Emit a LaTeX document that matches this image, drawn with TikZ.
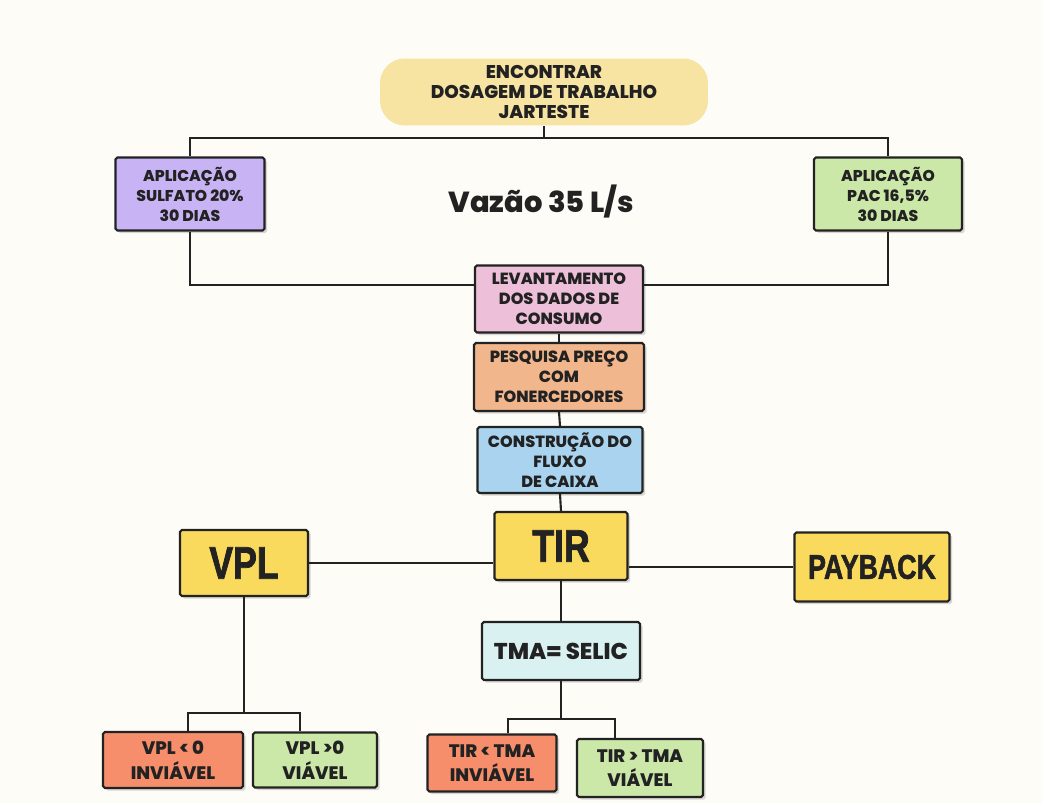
\documentclass[tikz,border=0pt]{standalone}
\usepackage{fontspec}
\setmainfont{Poppins}[BoldFont={Poppins ExtraBold}]
\newfontfamily\condfont[FakeStretch=0.78, BoldFeatures={FakeBold=1.6}]{Liberation Sans}
\usepackage{tikz}
\usetikzlibrary{shadows}
\definecolor{figPaper}{HTML}{FDFCF7}
\definecolor{figCream}{HTML}{F8E4A2}
\definecolor{figLilac}{HTML}{C8B4F4}
\definecolor{figLime}{HTML}{CBE8A9}
\definecolor{figPink}{HTML}{EDBFD8}
\definecolor{figPeach}{HTML}{F1B68C}
\definecolor{figSky}{HTML}{A9D3EE}
\definecolor{figGold}{HTML}{FADA5C}
\definecolor{figIce}{HTML}{DAF1F2}
\definecolor{figCoral}{HTML}{F68E6B}
\definecolor{figInk}{HTML}{222222}

\begin{document}
\begin{tikzpicture}[
  x=0.02cm, y=-0.02cm,
  every node/.style={font=\bfseries\fontsize{9.2}{11.4}\selectfont, text=figInk, align=center},
  box/.style={draw=figInk, line width=1.2pt, rounded corners=1pt, inner sep=2pt,
             drop shadow={shadow xshift=1.5pt, shadow yshift=-1.5pt, fill=black, opacity=.15}},
  bigbox/.style={box, fill=figGold, font=\condfont\bfseries\fontsize{26}{28}\selectfont},
  verdict/.style={box, font=\bfseries\fontsize{10.3}{14}\selectfont},
  link/.style={line width=1.2pt, figInk},
]

% paper
\fill[figPaper] (0,0) rectangle (1042,803);

% Start
\node[fill=figCream, rounded corners=14pt, minimum width=6.56cm, minimum height=1.34cm,
  font=\bfseries\fontsize{10.5}{11.6}\selectfont]
  (jar) at (544,92) {ENCONTRAR\\DOSAGEM DE TRABALHO\\JARTESTE};

% Coagulants
\node[box, fill=figLilac, minimum width=2.98cm, minimum height=1.46cm,
  font=\bfseries\fontsize{8.9}{11.4}\selectfont]
  (sulf) at (190,194) {APLICAÇÃO\\SULFATO 20\%\\30 DIAS};
\node[box, fill=figLime, minimum width=2.96cm, minimum height=1.46cm,
  font=\bfseries\fontsize{8.9}{11.4}\selectfont]
  (pac) at (888,194) {APLICAÇÃO\\PAC 16,5\%\\30 DIAS};
\node[font=\bfseries\fontsize{16.5}{18}\selectfont] (vazao) at (541,202) {Vazão 35 L/s};

% Middle chain
\node[box, fill=figPink, minimum width=3.36cm, minimum height=1.34cm]
  (lev) at (559,299) {LEVANTAMENTO\\DOS DADOS DE\\CONSUMO};
\node[box, fill=figPeach, minimum width=3.4cm, minimum height=1.36cm]
  (pesq) at (559,377) {PESQUISA PREÇO\\COM\\FONERCEDORES};
\node[box, fill=figSky, minimum width=3.3cm, minimum height=1.32cm]
  (cons) at (560,460) {CONSTRUÇÃO DO\\FLUXO\\DE CAIXA};

% Indicators
\node[bigbox, minimum width=2.66cm, minimum height=1.36cm] (tir) at (561,546) {TIR};
\node[bigbox, minimum width=2.56cm, minimum height=1.32cm] (vpl) at (244,563) {VPL};
\node[bigbox, minimum width=3.1cm, minimum height=1.38cm,
  font=\condfont\bfseries\fontsize{19.5}{21}\selectfont] (pay) at (872,567) {PAYBACK};
\node[box, fill=figIce, minimum width=3.16cm, minimum height=1.16cm,
  font=\bfseries\fontsize{13}{15}\selectfont] (tma) at (561,651) {TMA= SELIC};

% Verdicts
\node[verdict, fill=figCoral, minimum width=2.8cm, minimum height=1.12cm]
  (vneg) at (173,760) {VPL < 0\\INVIÁVEL};
\node[verdict, fill=figLime, minimum width=2.48cm, minimum height=1.1cm]
  (vpos) at (315,760) {VPL >0\\VIÁVEL};
\node[verdict, fill=figCoral, minimum width=2.58cm, minimum height=1.14cm]
  (tneg) at (492,763) {TIR < TMA\\INVIÁVEL};
\node[verdict, fill=figLime, minimum width=2.52cm, minimum height=1.16cm]
  (tpos) at (640,768) {TIR > TMA\\VIÁVEL};

% Connectors
\coordinate (jtop) at (544,138);
\coordinate (jmid) at (0,285);
\draw[link] (jar.south) -- (jtop);
\draw[link] (sulf.north) |- (jtop) -| (pac.north);
\draw[link] (sulf.south) |- (lev.west |- jmid);
\draw[link] (pac.south) |- (lev.east |- jmid);
\draw[link] (lev.south) -- (pesq.north);
\draw[link] (pesq.south) -- (cons.north);
\draw[link] (cons.south) -- (tir.north);
\draw[link] (vpl.east) -- (vpl.east -| tir.west);
\draw[link] (pay.west) -- (pay.west -| tir.east);
\draw[link] (tir.south) -- (tma.north);

% VPL split
\coordinate (vl) at (188,713);
\coordinate (vr) at (300,713);
\draw[link] (vpl.south) -- (vpl.south |- vl);
\draw[link] (vl |- vneg.north) -- (vl) -- (vr) -- (vr |- vpos.north);

% TIR split
\coordinate (tl) at (508,719);
\coordinate (tr) at (615,719);
\draw[link] (tma.south) -- (tma.south |- tl);
\draw[link] (tl |- tneg.north) -- (tl) -- (tr) -- (tr |- tpos.north);

\end{tikzpicture}
\end{document}
